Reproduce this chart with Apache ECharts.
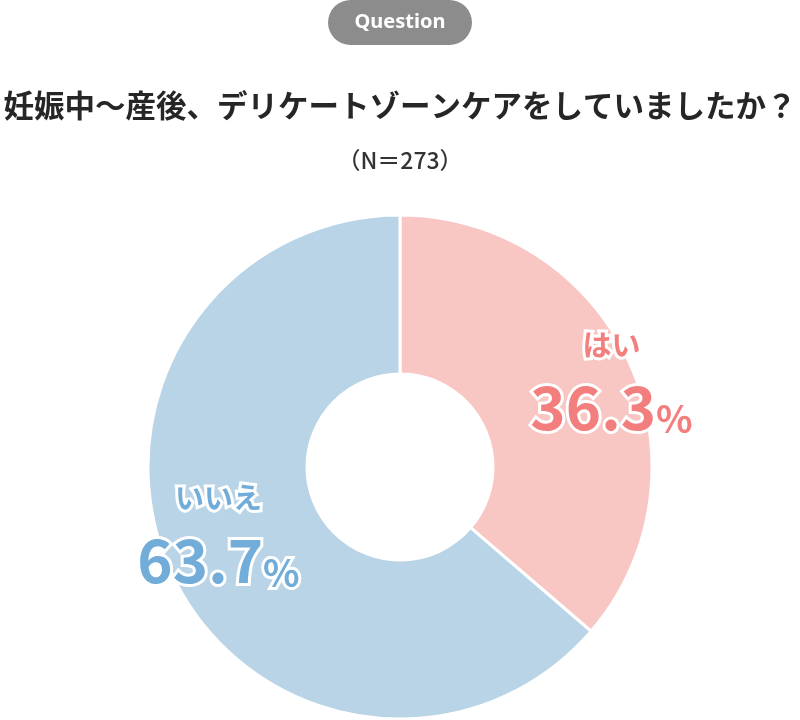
<!DOCTYPE html>
<html><head><meta charset="utf-8">
<script src="https://cdn.jsdelivr.net/npm/echarts@6/dist/echarts.min.js"></script>
<style>html,body{margin:0;padding:0;background:#fff}#c{width:800px;height:720px}</style>
</head><body><div id="c"></div>
<script>
const badgeText = 'Question';
const titleText = '妊娠中～産後、デリケートゾーンケアをしていましたか？';
const subtitleText = '（N＝273）';
const categories = ['はい', 'いいえ'];
const values = [36.3, 63.7];
const sliceColors = ['#f8c6c3', '#b8d4e6'];
const labelColors = ['#f27f7d', '#72acd9'];
const labelOffsets = [[52, -16], [-22, -9]];

const chart = echarts.init(document.getElementById('c'), null, {renderer: 'canvas'});
const fontCJK = '"Noto Sans CJK JP", "Noto Sans", sans-serif';

function richFor(i) {
  const c = labelColors[i];
  const base = {color: c, fontFamily: fontCJK, fontWeight: 'bold', textBorderColor: '#fff', textBorderWidth: 6};
  return {
    name: Object.assign({}, base, {fontSize: 29, lineHeight: 58}),
    num: Object.assign({}, base, {fontSize: 60, lineHeight: 66}),
    pct: Object.assign({}, base, {fontSize: 38, lineHeight: 66, verticalAlign: 'bottom', padding: [0,0,2,0]})
  };
}

chart.setOption({
  animation: false,
  graphic: [
    {type: 'rect', shape: {x: 328, y: 0, width: 144, height: 45, r: 22.5}, style: {fill: '#8c8c8c'}},
    {type: 'text', x: 400, y: 22, style: {text: badgeText, fill: '#fff', font: 'bold 20px "Noto Sans", sans-serif', align: 'center', verticalAlign: 'middle'}},
    {type: 'text', x: 400, y: 105, style: {text: titleText, fill: '#262626', font: 'bold 30.5px ' + fontCJK, align: 'center', verticalAlign: 'middle'}},
    {type: 'text', x: 400, y: 160, style: {text: subtitleText, fill: '#333', font: '500 23px ' + fontCJK, align: 'center', verticalAlign: 'middle'}}
  ],
  series: [{
    type: 'pie',
    center: [400, 467],
    radius: [93, 252],
    startAngle: 90,
    clockwise: true,
    silent: true,
    itemStyle: {borderColor: '#fff', borderWidth: 3},
    label: {show: true, position: 'inside'},
    labelLine: {show: false},
    labelLayout: function (p) { const o = labelOffsets[p.dataIndex]; return {dx: o[0], dy: o[1]}; },
    data: categories.map((n, i) => ({
      name: n, value: values[i],
      itemStyle: {color: sliceColors[i]},
      label: {
        formatter: '{name|' + n + '}\n{num|' + values[i].toFixed(1) + '}{pct|%}',
        rich: richFor(i)
      }
    }))
  }]
});
</script></body></html>
